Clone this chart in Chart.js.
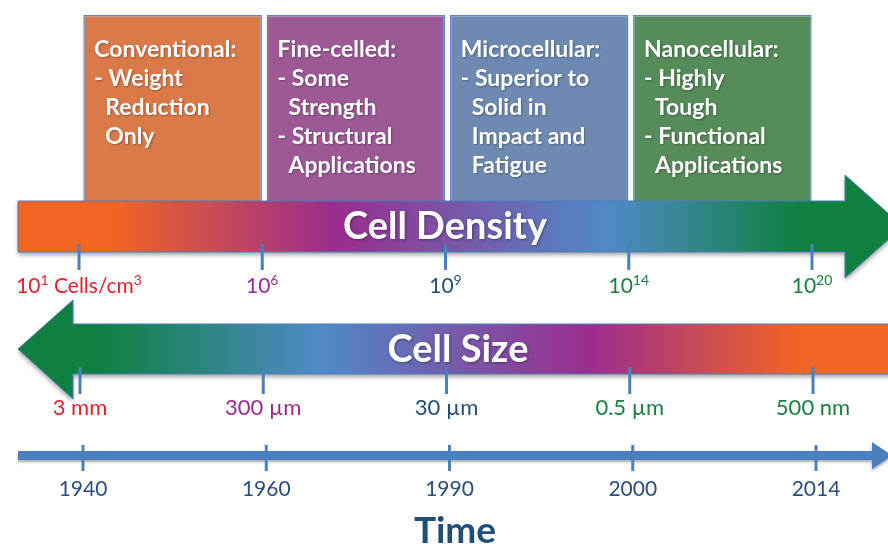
<!DOCTYPE html>
<html>
<head>
<meta charset="utf-8">
<script src="https://cdn.jsdelivr.net/npm/chart.js@4/dist/chart.umd.min.js"></script>
<style>
  html, body { margin: 0; padding: 0; background: #ffffff; }
  #wrap { width: 888px; height: 544px; }
</style>
</head>
<body>
<div id="wrap"><canvas id="c" width="888" height="544"></canvas></div>
<script>
// Foam classes, each spanning one interval between neighbouring scale marks
const foamClasses = ['Conventional:', 'Fine-celled:', 'Microcellular:', 'Nanocellular:'];
const classNotes = [
  [['Weight', 'Reduction', 'Only']],
  [['Some', 'Strength'], ['Structural', 'Applications']],
  [['Superior to', 'Solid in', 'Impact and', 'Fatigue']],
  [['Highly', 'Tough'], ['Functional', 'Applications']]
];
const classColors = ['#da7a48', '#9c5996', '#6e8ab2', '#568b5a'];

// Marks on the three scales (one per boundary)
const densityBase = ['10', '10', '10', '10', '10'];
const densityExp = ['1', '6', '9', '14', '20'];
const densityUnit = ['Cells/cm', '', '', '', ''];
const densityUnitExp = ['3', '', '', '', ''];
const sizeLabels = ['3 mm', '300 µm', '30 µm', '0.5 µm', '500 nm'];
const yearLabels = ['1940', '1960', '1990', '2000', '2014'];
const markColors = ['#e8202a', '#9b2a8c', '#1f4e79', '#17813f', '#17813f'];

const FONT = 'Lato, "Open Sans", sans-serif';

function gradient(ctx, x0, x1, stops) {
  const g = ctx.createLinearGradient(x0, 0, x1, 0);
  stops.forEach(([px, col]) => g.addColorStop(Math.min(1, Math.max(0, (px - x0) / (x1 - x0))), col));
  return g;
}

const diagram = {
  id: 'diagram',
  afterDatasetsDraw(chart) {
    const ctx = chart.ctx;
    const xs = chart.scales.x;
    const W = chart.width;
    const marks = [0, 1, 2, 3, 4].map(v => xs.getPixelForValue(v) - 2);

    // ---- Cell Density arrow (points right)
    ctx.save();
    ctx.shadowColor = 'rgba(0,0,0,0.35)';
    ctx.shadowBlur = 4;
    ctx.shadowOffsetY = 3;
    ctx.beginPath();
    ctx.moveTo(18, 201);
    ctx.lineTo(845, 201);
    ctx.lineTo(845, 175);
    ctx.lineTo(903, 226.5);
    ctx.lineTo(845, 278);
    ctx.lineTo(845, 252);
    ctx.lineTo(18, 252);
    ctx.closePath();
    ctx.fillStyle = gradient(ctx, 18, 903, [
      [110, '#f26522'], [333, '#9b2d8e'], [607, '#4f8ac8'], [800, '#0f8040']
    ]);
    ctx.fill();
    ctx.shadowColor = 'transparent';
    ctx.strokeStyle = '#4a7ebb';
    ctx.lineWidth = 1;
    ctx.stroke();
    ctx.restore();

    // ---- Cell Size arrow (points left)
    ctx.save();
    ctx.shadowColor = 'rgba(0,0,0,0.35)';
    ctx.shadowBlur = 4;
    ctx.shadowOffsetY = 3;
    ctx.beginPath();
    ctx.moveTo(W + 10, 324);
    ctx.lineTo(73, 324);
    ctx.lineTo(73, 300);
    ctx.lineTo(18, 349);
    ctx.lineTo(73, 399);
    ctx.lineTo(73, 374);
    ctx.lineTo(W + 10, 374);
    ctx.closePath();
    ctx.fillStyle = gradient(ctx, 18, W, [
      [100, '#0f8040'], [320, '#4f8ac8'], [590, '#9b2d8e'], [800, '#f26522']
    ]);
    ctx.fill();
    ctx.shadowColor = 'transparent';
    ctx.strokeStyle = '#4a7ebb';
    ctx.lineWidth = 1;
    ctx.stroke();
    ctx.restore();

    // ---- Time arrow
    ctx.save();
    ctx.shadowColor = 'rgba(0,0,0,0.35)';
    ctx.shadowBlur = 3;
    ctx.shadowOffsetY = 2;
    ctx.fillStyle = '#4a7fc0';
    ctx.beginPath();
    ctx.moveTo(18, 451);
    ctx.lineTo(872, 451);
    ctx.lineTo(872, 442);
    ctx.lineTo(892, 455.5);
    ctx.lineTo(872, 469);
    ctx.lineTo(872, 460);
    ctx.lineTo(18, 460);
    ctx.closePath();
    ctx.fill();
    ctx.restore();

    // ---- scale marks
    ctx.save();
    ctx.strokeStyle = '#4a7fc0';
    ctx.lineWidth = 3;
    marks.forEach(px => {
      ctx.beginPath(); ctx.moveTo(px, 244); ctx.lineTo(px, 270); ctx.stroke();
      ctx.beginPath(); ctx.moveTo(px + 1, 367); ctx.lineTo(px + 1, 394); ctx.stroke();
      ctx.beginPath(); ctx.moveTo(px + 4, 445); ctx.lineTo(px + 4, 471); ctx.stroke();
    });
    ctx.restore();

    // ---- density labels (with superscripts)
    ctx.save();
    ctx.textBaseline = 'alphabetic';
    marks.forEach((px, i) => {
      const big = '21px ' + FONT, small = '14px ' + FONT;
      const parts = [
        [densityBase[i], big, 0], [densityExp[i], small, -8],
        [densityUnit[i] ? ' ' + densityUnit[i] : '', big, 0], [densityUnitExp[i], small, -8]
      ];
      let total = 0;
      parts.forEach(p => { ctx.font = p[1]; total += ctx.measureText(p[0]).width; });
      let x = px - total / 2;
      ctx.fillStyle = markColors[i];
      parts.forEach(p => {
        ctx.font = p[1];
        ctx.textAlign = 'left';
        ctx.fillText(p[0], x, 293 + p[2]);
        x += ctx.measureText(p[0]).width;
      });
    });

    // ---- size labels
    ctx.font = '22px ' + FONT;
    ctx.textAlign = 'center';
    marks.forEach((px, i) => {
      ctx.fillStyle = markColors[i];
      ctx.fillText(sizeLabels[i], px + 1, 415);
    });

    // ---- year labels
    ctx.font = '21px ' + FONT;
    ctx.fillStyle = '#2a4f7d';
    marks.forEach((px, i) => ctx.fillText(yearLabels[i], px + 4, 496));

    ctx.font = 'bold 37px ' + FONT;
    ctx.fillStyle = '#1f4e79';
    ctx.fillText('Time', 455, 543);

    // ---- arrow titles
    ctx.shadowColor = 'rgba(0,0,0,0.35)';
    ctx.shadowBlur = 3;
    ctx.shadowOffsetX = 1;
    ctx.shadowOffsetY = 1;
    ctx.fillStyle = '#ffffff';
    ctx.font = 'bold 38px ' + FONT;
    ctx.fillText('Cell Density', 445, 239);
    ctx.fillText('Cell Size', 458, 362);

    // ---- class text inside boxes
    const meta = chart.getDatasetMeta(0);
    ctx.shadowColor = 'rgba(0,0,0,0.3)';
    ctx.shadowBlur = 2;
    ctx.textAlign = 'left';
    ctx.font = 'bold 23px ' + FONT;
    meta.data.forEach((bar, i) => {
      const left = bar.x - bar.width / 2 + 11;
      let y = 57;
      ctx.fillText(foamClasses[i], left, y);
      classNotes[i].forEach(bullet => {
        bullet.forEach((line, k) => {
          y += 29;
          if (k === 0) ctx.fillText('- ' + line, left, y);
          else ctx.fillText(line, left + 11, y);
        });
      });
    });
    ctx.restore();
  }
};

new Chart(document.getElementById('c'), {
  type: 'bar',
  data: {
    datasets: [{
      data: foamClasses.map((c, i) => ({ x: i + 0.5, y: [0, 1] })),
      backgroundColor: classColors,
      borderColor: '#5b8ccc',
      borderWidth: 1.5,
      borderSkipped: false,
      barPercentage: 0.975,
      categoryPercentage: 1
    }]
  },
  options: {
    responsive: false,
    animation: false,
    layout: { padding: { left: 81, right: 74, top: 15, bottom: 340 } },
    scales: {
      x: { type: 'linear', min: 0, max: 4, offset: false, display: false, ticks: { stepSize: 1 } },
      y: { min: 0, max: 1, display: false }
    },
    plugins: { legend: { display: false }, tooltip: { enabled: false } }
  },
  plugins: [diagram]
});
</script>
</body>
</html>
